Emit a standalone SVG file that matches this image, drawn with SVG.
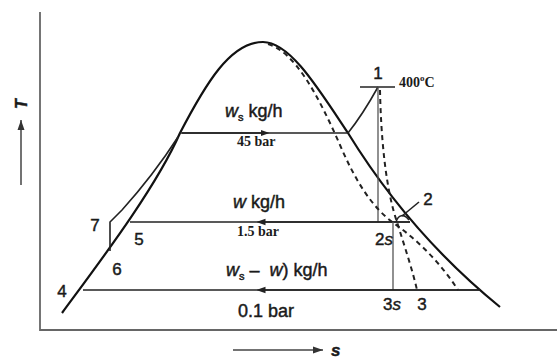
<svg xmlns="http://www.w3.org/2000/svg" width="557" height="360" viewBox="0 0 557 360">
<style>
.sans{font-family:"Liberation Sans",Arial,sans-serif;fill:#1a1a1a;stroke:#1a1a1a;stroke-width:0.45}
.serif{font-family:"Liberation Serif","Times New Roman",serif;font-weight:bold;fill:#1a1a1a}
.lbl{font-size:17px}
.flow{font-size:18px}
.pr{font-size:14px}
.it{font-style:italic}
.frame{stroke:#666;stroke-width:1.8;fill:none}
.dome{stroke:#111;stroke-width:2.2;fill:none}
.line{stroke:#222;stroke-width:1.6;fill:none}
.thin{stroke:#555;stroke-width:1.3;fill:none}
.dash{stroke:#222;stroke-width:2;fill:none;stroke-dasharray:5 4}
</style>
<defs>
<marker id="ah" viewBox="0 0 10 10" refX="5" refY="5" markerWidth="9" markerHeight="9" markerUnits="userSpaceOnUse" orient="auto">
<path d="M0,1.5 L10,5 L0,8.5 Z" fill="#222"/>
</marker>
<marker id="axh" viewBox="0 0 10 10" refX="10" refY="5" markerWidth="10" markerHeight="10" markerUnits="userSpaceOnUse" orient="auto">
<path d="M0,1.5 L10,5 L0,8.5 Z" fill="#333"/>
</marker>
</defs>
<rect width="557" height="360" fill="#fff"/>
<g id="axes">
<path class="frame" d="M40,12 L40,330 L557,330"/>
<line x1="21" y1="185" x2="21" y2="120" stroke="#444" stroke-width="1.5" marker-end="url(#axh)"/>
<text class="sans it" font-weight="bold" font-size="16" transform="translate(27,104) rotate(-90)" text-anchor="middle">T</text>
<line x1="233" y1="350" x2="323" y2="350" stroke="#444" stroke-width="1.5" marker-end="url(#axh)"/>
<text class="sans it" font-weight="bold" font-size="17" x="331" y="356">s</text>
</g>
<g id="dome">
<path class="dome" d="M62,313 C95,268 155,190 180,133 C205,85 230,42 263,42 C290,42 318,88 348,133 C380,185 430,250 500,307"/>
</g>
<g id="connectors">
<path class="line" d="M180,133 L348,133"/>
<path class="line" d="M182,133 L265,133" marker-end="url(#ah)"/>
<path class="line" d="M348,133 C360,118 368,105 378,87"/>
<line class="line" x1="360" y1="87" x2="395" y2="87"/>
<line class="thin" x1="378" y1="87" x2="378" y2="222"/>
<path class="line" d="M130,222 L410,222"/>
<path class="line" d="M410,222 L261,222" marker-end="url(#ah)"/>
<line class="thin" x1="393" y1="222" x2="393" y2="290"/>
<path class="line" d="M83,290 L480,290"/>
<path class="line" d="M480,290 L261,290" marker-end="url(#ah)"/>
<path class="line" d="M110,251 L110,222 L122,210 C140,190 160,165 178,137"/>
<path class="dash" d="M268,44 C295,52 318,95 340,145 C355,180 372,208 395,224 C420,242 442,265 458,290"/>
<path class="dash" d="M380,90 C381,140 386,190 397,222 C404,245 412,268 417,290"/>
<line class="line" x1="402" y1="216" x2="419" y2="202"/>
<path class="line" d="M396,222 C398,215 404,213 409,220"/>
</g>
<g id="p1"><text class="sans lbl" x="378" y="79" text-anchor="middle">1</text>
<text class="serif" font-size="14" x="399" y="87">400<tspan font-size="9" dy="-6">o</tspan><tspan dy="6">C</tspan></text></g>
<g id="p2"><text class="sans lbl" x="428" y="205" text-anchor="middle">2</text></g>
<g id="p2s"><text class="sans lbl" x="384" y="245" text-anchor="middle">2<tspan class="it">s</tspan></text></g>
<g id="p3s"><text class="sans lbl" x="392" y="310" text-anchor="middle">3<tspan class="it">s</tspan></text></g>
<g id="p3"><text class="sans lbl" x="422" y="310" text-anchor="middle">3</text></g>
<g id="p4"><text class="sans lbl" x="62" y="297" text-anchor="middle">4</text></g>
<g id="p5"><text class="sans lbl" x="139" y="245" text-anchor="middle">5</text></g>
<g id="p6"><text class="sans lbl" x="117" y="275" text-anchor="middle">6</text></g>
<g id="p7"><text class="sans lbl" x="95" y="231" text-anchor="middle">7</text></g>
<g id="labels">
<text class="sans flow" x="225" y="117"><tspan class="it">w</tspan><tspan font-size="11" dy="4">s</tspan><tspan dy="-4"> kg/h</tspan></text>
<text class="serif pr" x="237" y="146">45 bar</text>
<text class="sans flow" x="233" y="208"><tspan class="it">w</tspan> kg/h</text>
<text class="serif pr" x="237" y="236">1.5 bar</text>
<text class="sans flow" x="226" y="276"><tspan class="it">w</tspan><tspan font-size="11" dy="4">s</tspan><tspan dy="-4"> –&#160; </tspan><tspan class="it">w</tspan>) kg/h</text>
<text class="sans flow" x="238" y="317">0.1 bar</text>
</g>
</svg>
